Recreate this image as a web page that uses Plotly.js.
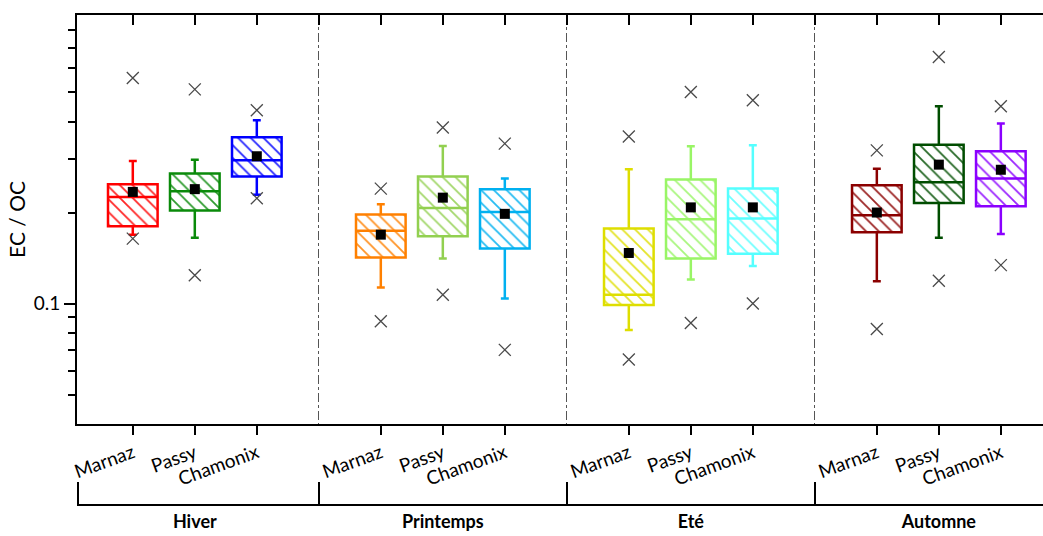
<!DOCTYPE html>
<html>
<head>
<meta charset="utf-8">
<script src="https://cdn.plot.ly/plotly-3.0.1.min.js"></script>
<style>
html,body{margin:0;padding:0;background:#fff;overflow:hidden;}
#chart{width:1043px;height:536px;}
</style>
</head>
<body>
<div id="chart"></div>
<script>
// ---- data (season-major order) ----
const seasons = ['Hiver', 'Printemps', 'Eté', 'Automne'];
const sites = ['Marnaz', 'Passy', 'Chamonix'];

const q1Val      = [0.180, 0.203, 0.263,  0.142, 0.167, 0.152,  0.099, 0.141, 0.146,  0.172, 0.215, 0.210];
const medianVal  = [0.225, 0.235, 0.298,  0.174, 0.207, 0.201,  0.107, 0.190, 0.191,  0.196, 0.252, 0.259];
const q3Val      = [0.248, 0.269, 0.355,  0.197, 0.263, 0.239,  0.177, 0.257, 0.240,  0.246, 0.335, 0.319];
const whiskerLow = [0.169, 0.165, 0.229,  0.113, 0.141, 0.104,  0.0818, 0.120, 0.133, 0.1185, 0.165, 0.170];
const whiskerHigh= [0.296, 0.299, 0.404,  0.213, 0.332, 0.259,  0.278, 0.331, 0.334,  0.279, 0.449, 0.394];
const meanVal    = [0.234, 0.239, 0.307,  0.169, 0.224, 0.198,  0.147, 0.208, 0.208,  0.200, 0.288, 0.277];
const minVal     = [0.164, 0.124, 0.223,  0.0874, 0.107, 0.0703, 0.0653, 0.0863, 0.100, 0.0824, 0.119, 0.134];
const maxVal     = [0.557, 0.511, 0.436,  0.240, 0.382, 0.338,  0.357, 0.501, 0.470,  0.321, 0.654, 0.449];

// ---- styles ----
const colors = ['#ff0000', '#0a8a0a', '#0000ff',
                '#ff8000', '#92d050', '#00b0f0',
                '#dede00', '#99f566', '#55ffff',
                '#8b0000', '#004d00', '#8a00ff'];

// positions: 4 slots per season (3 sites + separator)
const xPos = [];
const tickLabels = [];
seasons.forEach((s, si) => sites.forEach((site, k) => { xPos.push(si * 4 + k + 1); tickLabels.push(site); }));
const separators = seasons.slice(1).map((s, si) => (si + 1) * 4);
const allSlots = [];
for (let v = 1; v <= seasons.length * 4 - 1; v++) allSlots.push(v);
const groupCenters = seasons.map((s, si) => si * 4 + 2);
const xMin = 0.1, xMax = 15.68;
const bracketTicks = [xMin + 0.02].concat(separators);

const traces = [];

// hatched box fill
traces.push({
  type: 'bar',
  x: xPos,
  base: q1Val,
  y: q3Val.map((v, i) => v - q1Val[i]),
  width: 0.8,
  marker: {
    color: colors,
    line: {width: 0},
    pattern: {shape: '\\', fgcolor: colors, bgcolor: 'rgba(255,255,255,0)', size: 9, solidity: 0.2, fgopacity: 0.85, fillmode: 'replace'}
  },
  hoverinfo: 'skip',
  showlegend: false
});

// box outlines, medians, whiskers
xPos.forEach((x, i) => {
  traces.push({
    type: 'box',
    x: [x],
    q1: [q1Val[i]],
    median: [medianVal[i]],
    q3: [q3Val[i]],
    lowerfence: [whiskerLow[i]],
    upperfence: [whiskerHigh[i]],
    width: 0.8,
    whiskerwidth: 0.16,
    boxpoints: false,
    line: {color: colors[i], width: 2.5},
    fillcolor: 'rgba(0,0,0,0)',
    hoverinfo: 'skip',
    showlegend: false
  });
});

// mean squares
traces.push({
  type: 'scatter', mode: 'markers', x: xPos, y: meanVal,
  marker: {symbol: 'square', size: 10, color: '#000'},
  showlegend: false
});
// min / max crosses (drawn through the overlaid axes, same range as x)
traces.push({
  type: 'scatter', mode: 'markers', x: xPos, y: minVal, xaxis: 'x2', yaxis: 'y',
  marker: {symbol: 'x-thin-open', size: 12, color: '#4a4a4a', line: {color: '#4a4a4a', width: 1.3}},
  showlegend: false
});
traces.push({
  type: 'scatter', mode: 'markers', x: xPos, y: maxVal, xaxis: 'x3', yaxis: 'y',
  marker: {symbol: 'x-thin-open', size: 12, color: '#4a4a4a', line: {color: '#4a4a4a', width: 1.3}},
  showlegend: false
});

const minorY = [0.05, 0.06, 0.07, 0.08, 0.09, 0.2, 0.3, 0.4, 0.5, 0.6, 0.7, 0.8];
const FONT = 'Lato, "Open Sans", sans-serif';

const layout = {
  width: 1043, height: 536,
  margin: {l: 77, r: 0, t: 15, b: 31},
  paper_bgcolor: '#fff', plot_bgcolor: '#fff',
  font: {family: FONT, color: '#000', size: 19},
  showlegend: false,
  boxmode: 'overlay',
  xaxis: {
    range: [xMin, xMax], domain: [0, 1], anchor: 'y',
    tickmode: 'array', tickvals: xPos, ticktext: tickLabels,
    tickangle: -20, ticks: 'outside', ticklen: 9, tickwidth: 2, tickcolor: '#000',
    showline: true, linewidth: 2, linecolor: '#000',
    showgrid: false, zeroline: false,
    tickfont: {family: FONT, size: 19, color: '#000'}
  },
  xaxis2: {
    overlaying: 'x', side: 'top', anchor: 'y', range: [xMin, xMax],
    tickmode: 'array', tickvals: allSlots, ticks: 'inside', ticklen: 10, tickwidth: 2, tickcolor: '#000',
    minor: {tickmode: 'array', tickvals: separators, ticks: '', showgrid: true, gridcolor: '#555', gridwidth: 1, griddash: 'dashdot'},
    showticklabels: false, showline: true, linewidth: 2, linecolor: '#000',
    showgrid: false, zeroline: false
  },
  xaxis3: {
    overlaying: 'x', anchor: 'free', position: 0, side: 'bottom', range: [xMin, xMax],
    tickmode: 'array', tickvals: groupCenters, ticktext: seasons, ticks: '',
    minor: {tickmode: 'array', tickvals: bracketTicks, ticks: 'inside', ticklen: 22, tickwidth: 2, tickcolor: '#000', showgrid: false},
    ticklabelstandoff: 0,
    tickfont: {family: FONT, size: 18, color: '#000', weight: 'bold'},
    showline: true, linewidth: 2, linecolor: '#000',
    showgrid: false, zeroline: false
  },
  yaxis: {
    type: 'log', range: [Math.log10(0.04), Math.log10(0.9)], domain: [0.1655, 1],
    tickmode: 'array', tickvals: [0.1], ticktext: ['0.1'],
    ticks: 'outside', ticklen: 11, tickwidth: 2, tickcolor: '#000',
    minor: {tickmode: 'array', tickvals: minorY, ticks: 'outside', ticklen: 7, tickwidth: 2, tickcolor: '#000', showgrid: false},
    showline: true, linewidth: 2, linecolor: '#000',
    showgrid: false, zeroline: false,
    tickfont: {family: FONT, size: 19, color: '#000'},
    title: {text: 'EC / OC', font: {family: FONT, size: 21, color: '#000'}, standoff: 2}
  }
};

Plotly.newPlot('chart', traces, layout, {displayModeBar: false, staticPlot: true});
</script>
</body>
</html>
